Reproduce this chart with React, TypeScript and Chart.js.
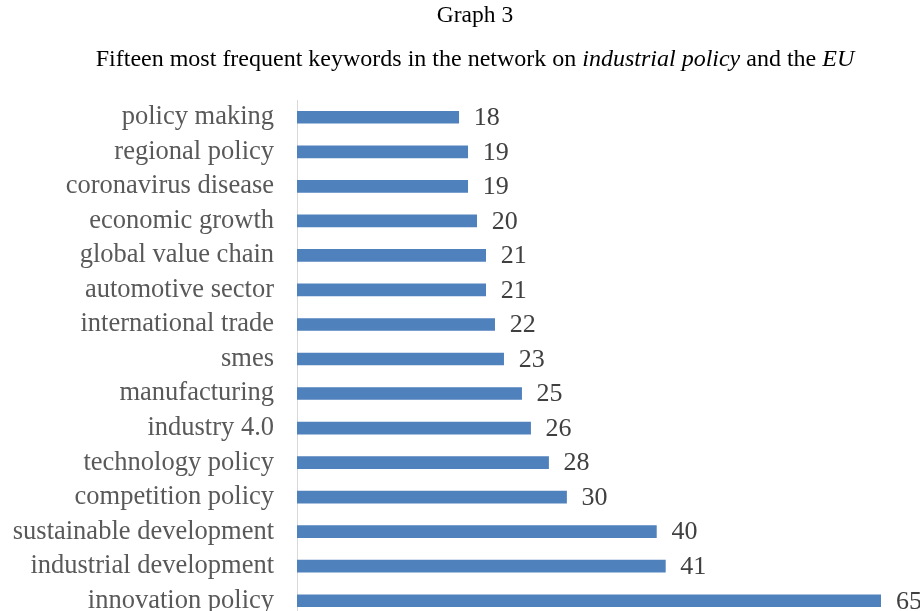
import React, { useEffect, useRef } from "react";
import { Chart, registerables } from "chart.js";

Chart.register(...registerables);

const keywords: string[] = [
  "policy making",
  "regional policy",
  "coronavirus disease",
  "economic growth",
  "global value chain",
  "automotive sector",
  "international trade",
  "smes",
  "manufacturing",
  "industry 4.0",
  "technology policy",
  "competition policy",
  "sustainable development",
  "industrial development",
  "innovation policy",
];

const frequencies: number[] = [18, 19, 19, 20, 21, 21, 22, 23, 25, 26, 28, 30, 40, 41, 65];

const FONT = "'Liberation Serif', 'Times New Roman', serif";

const valueLabels = {
  id: "valueLabels",
  afterDatasetsDraw(chart: any) {
    const ctx = chart.ctx;
    const meta = chart.getDatasetMeta(0);
    ctx.save();
    ctx.font = `26px ${FONT}`;
    ctx.fillStyle = "#404040";
    ctx.textAlign = "left";
    ctx.textBaseline = "middle";
    meta.data.forEach((bar: any, i: number) => {
      ctx.fillText(String(frequencies[i]), bar.x + 15, bar.y + 1);
    });
    ctx.restore();
  },
};

export default function App() {
  const canvasRef = useRef<HTMLCanvasElement | null>(null);

  useEffect(() => {
    document.body.style.margin = "0";
    const canvas = canvasRef.current;
    if (!canvas) return;
    const chart = new Chart(canvas, {
      type: "bar",
      data: {
        labels: keywords,
        datasets: [
          {
            data: frequencies,
            backgroundColor: "#4F81BD",
            borderWidth: 0,
            barThickness: 12,
          },
        ],
      },
      options: {
        indexAxis: "y",
        animation: false,
        responsive: false,
        maintainAspectRatio: false,
        layout: { padding: { top: 100, right: 39, bottom: 0, left: 0 } },
        plugins: {
          legend: { display: false },
          tooltip: { enabled: false },
        },
        scales: {
          x: {
            display: false,
            min: 0,
            max: 65,
          },
          y: {
            afterFit: (scale: any) => {
              scale.width = 297;
              scale.paddingTop = 0;
              scale.paddingBottom = 0;
            },
            grid: { display: false, drawTicks: false },
            border: { display: true, color: "#d9d9d9", width: 1 },
            ticks: {
              autoSkip: false,
              padding: 23,
              color: "#595959",
              font: { family: FONT, size: 26.5 },
            },
          },
        },
      },
      plugins: [valueLabels],
    });
    return () => chart.destroy();
  }, []);

  return (
    <div style={{ position: "relative", width: 920, height: 611, overflow: "hidden", background: "#fff" }}>
      <div
        style={{
          position: "absolute",
          top: 0,
          left: 0,
          width: 950,
          textAlign: "center",
          fontFamily: FONT,
          fontSize: 23.5,
          lineHeight: "28px",
          color: "#000",
        }}
      >
        Graph 3
      </div>
      <div
        style={{
          position: "absolute",
          top: 44,
          left: 0,
          width: 950,
          textAlign: "center",
          fontFamily: FONT,
          fontSize: 24,
          lineHeight: "28px",
          color: "#000",
          whiteSpace: "nowrap",
        }}
      >
        Fifteen most frequent keywords in the network on <i>industrial policy</i> and the <i>EU</i>
      </div>
      <canvas ref={canvasRef} width={920} height={618} style={{ display: "block" }} />
    </div>
  );
}
